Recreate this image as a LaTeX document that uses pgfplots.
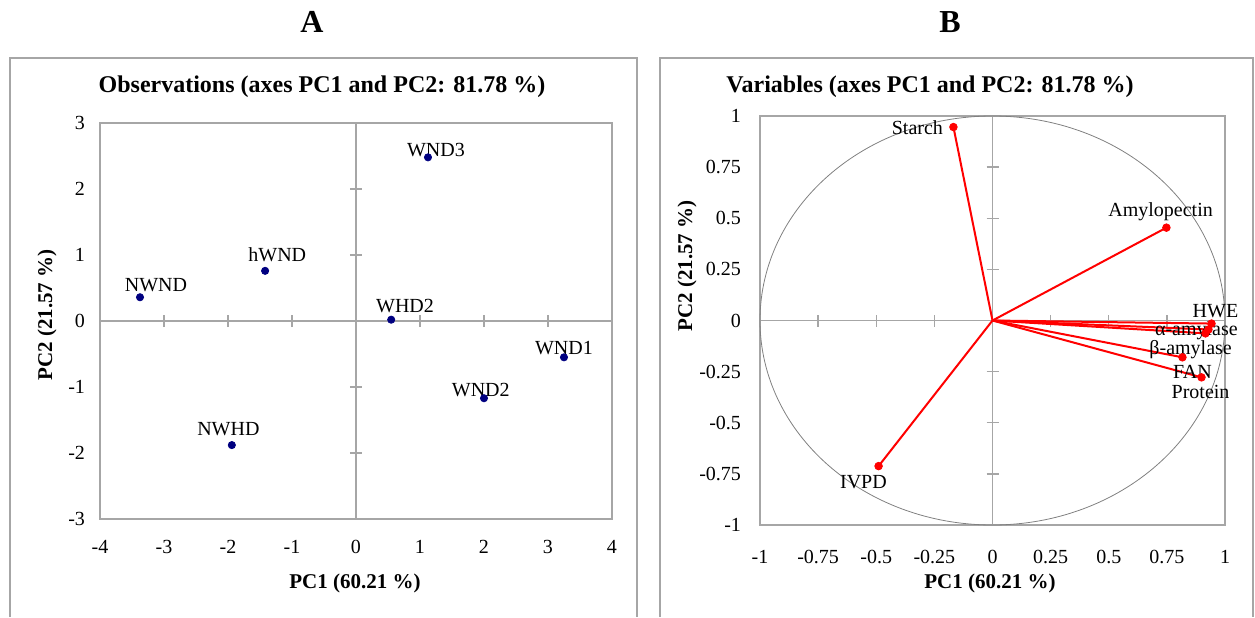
\documentclass[border=0pt]{standalone}
\usepackage{fontspec}
\setmainfont{Liberation Serif}
\usepackage{pgfplots}
\pgfplotsset{compat=1.18}

\definecolor{obsblue}{RGB}{0,0,128}
\definecolor{framegray}{RGB}{166,166,166}

\pgfplotsset{
  pcabox/.style={
    scale only axis, clip=false,
    axis line style={framegray, line width=0.7pt},
    major tick length=0pt, tick style={draw=none},
    ticklabel style={font=\fontsize{10}{12}\selectfont},
    /pgf/number format/assume math mode=true,
  },
  pcamid/.style={
    scale only axis,
    axis lines=middle,
    axis line style={-, framegray, line width=0.7pt},
    xticklabels={}, yticklabels={},
    tick align=center, major tick length=6pt,
    tick style={framegray, line width=0.7pt},
  },
}

\begin{document}
\begin{tikzpicture}
\useasboundingbox (0,0) rectangle (627.5pt,308.5pt);

% panel frames (bottom edge cut off)
\draw[framegray, line width=0.7pt] (5pt,0) -- (5pt,279.5pt) -- (318.5pt,279.5pt) -- (318.5pt,0);
\draw[framegray, line width=0.7pt] (330pt,0) -- (330pt,279.5pt) -- (626.5pt,279.5pt) -- (626.5pt,0);

\node[font=\fontsize{16}{18}\selectfont\bfseries] at (156pt,297.5pt) {A};
\node[font=\fontsize{16}{18}\selectfont\bfseries] at (475pt,297.5pt) {B};

\node[font=\fontsize{12}{14}\selectfont\bfseries] at (161pt,265pt) {Observations (axes PC1 and PC2: 81.78 \%)};
\node[font=\fontsize{12}{14}\selectfont\bfseries] at (465pt,265pt) {Variables (axes PC1 and PC2: 81.78 \%)};

\node[font=\fontsize{10.5}{12}\selectfont\bfseries] at (177.5pt,17pt) {PC1 (60.21 \%)};
\node[font=\fontsize{10.5}{12}\selectfont\bfseries] at (495pt,17pt) {PC1 (60.21 \%)};
\node[font=\fontsize{10.5}{12}\selectfont\bfseries, rotate=90] at (23.5pt,151pt) {PC2 (21.57 \%)};
\node[font=\fontsize{10.5}{12}\selectfont\bfseries, rotate=90] at (343.5pt,175.5pt) {PC2 (21.57 \%)};

% ---------- A: observations ----------
\begin{axis}[pcamid, at={(50pt,49pt)}, anchor=south west, width=256pt, height=198pt,
  xmin=-4, xmax=4, ymin=-3, ymax=3, xtick={-4,...,4}, ytick={-3,...,3}]
\end{axis}
\begin{axis}[pcabox, at={(50pt,49pt)}, anchor=south west, width=256pt, height=198pt,
  xmin=-4, xmax=4, ymin=-3, ymax=3, xtick={-4,...,4}, ytick={-3,...,3},
  xticklabel style={yshift=-7pt}, yticklabel style={xshift=-4pt}]
\addplot[only marks, mark=*, mark size=1.8pt, obsblue] coordinates {
  (-3.375,0.36) (-1.42,0.76) (0.55,0.02) (1.125,2.48)
  (3.25,-0.55) (2.0,-1.17) (-1.94,-1.88)
};
\begin{scope}[font=\fontsize{10}{12}\selectfont]
\node at (axis cs:-3.125,0.545) {NWND};
\node at (axis cs:-1.23,1.0) {hWND};
\node at (axis cs:0.766,0.227) {WHD2};
\node at (axis cs:1.25,2.59) {WND3};
\node at (axis cs:3.25,-0.41) {WND1};
\node at (axis cs:1.95,-1.045) {WND2};
\node at (axis cs:-1.994,-1.636) {NWHD};
\end{scope}
\end{axis}

% ---------- B: variables ----------
\begin{axis}[pcamid, at={(380pt,46pt)}, anchor=south west, width=232.5pt, height=204.5pt,
  xmin=-1, xmax=1, ymin=-1, ymax=1,
  xtick={-1,-0.75,-0.5,-0.25,0,0.25,0.5,0.75,1},
  ytick={-1,-0.75,-0.5,-0.25,0,0.25,0.5,0.75,1}]
\end{axis}
\begin{axis}[pcabox, at={(380pt,46pt)}, anchor=south west, width=232.5pt, height=204.5pt,
  xmin=-1, xmax=1, ymin=-1, ymax=1,
  xtick={-1,-0.75,-0.5,-0.25,0,0.25,0.5,0.75,1},
  ytick={-1,-0.75,-0.5,-0.25,0,0.25,0.5,0.75,1},
  /pgf/number format/.cd, fixed, precision=2, /pgfplots/.cd,
  xticklabel style={yshift=-9pt}, yticklabel style={xshift=-6pt}]
\draw[gray, line width=0.4pt] (axis cs:0,0) ellipse [x radius=1, y radius=1];
\addplot[red, line width=1pt] coordinates {(0,0) (-0.168,0.946)};
\addplot[red, line width=1pt] coordinates {(0,0) (0.748,0.454)};
\addplot[red, line width=1pt] coordinates {(0,0) (0.942,-0.015)};
\addplot[red, line width=1pt] coordinates {(0,0) (0.929,-0.044)};
\addplot[red, line width=1pt] coordinates {(0,0) (0.916,-0.063)};
\addplot[red, line width=1pt] coordinates {(0,0) (0.817,-0.180)};
\addplot[red, line width=1pt] coordinates {(0,0) (0.899,-0.278)};
\addplot[red, line width=1pt] coordinates {(0,0) (-0.490,-0.712)};
\addplot[only marks, mark=*, mark size=1.9pt, red] coordinates {
  (-0.168,0.946) (0.748,0.454) (0.942,-0.015) (0.929,-0.044)
  (0.916,-0.063) (0.817,-0.180) (0.899,-0.278) (-0.490,-0.712)
};
\begin{scope}[font=\fontsize{10}{12}\selectfont]
\node at (axis cs:-0.323,0.941) {Starch};
\node at (axis cs:0.723,0.532) {Amylopectin};
\node at (axis cs:0.959,0.044) {HWE};
\node at (axis cs:0.877,-0.049) {α-amylase};
\node at (axis cs:0.852,-0.141) {β-amylase};
\node at (axis cs:0.86,-0.249) {FAN};
\node at (axis cs:0.895,-0.351) {Protein};
\node at (axis cs:-0.555,-0.790) {IVPD};
\end{scope}
\end{axis}
\end{tikzpicture}
\end{document}
